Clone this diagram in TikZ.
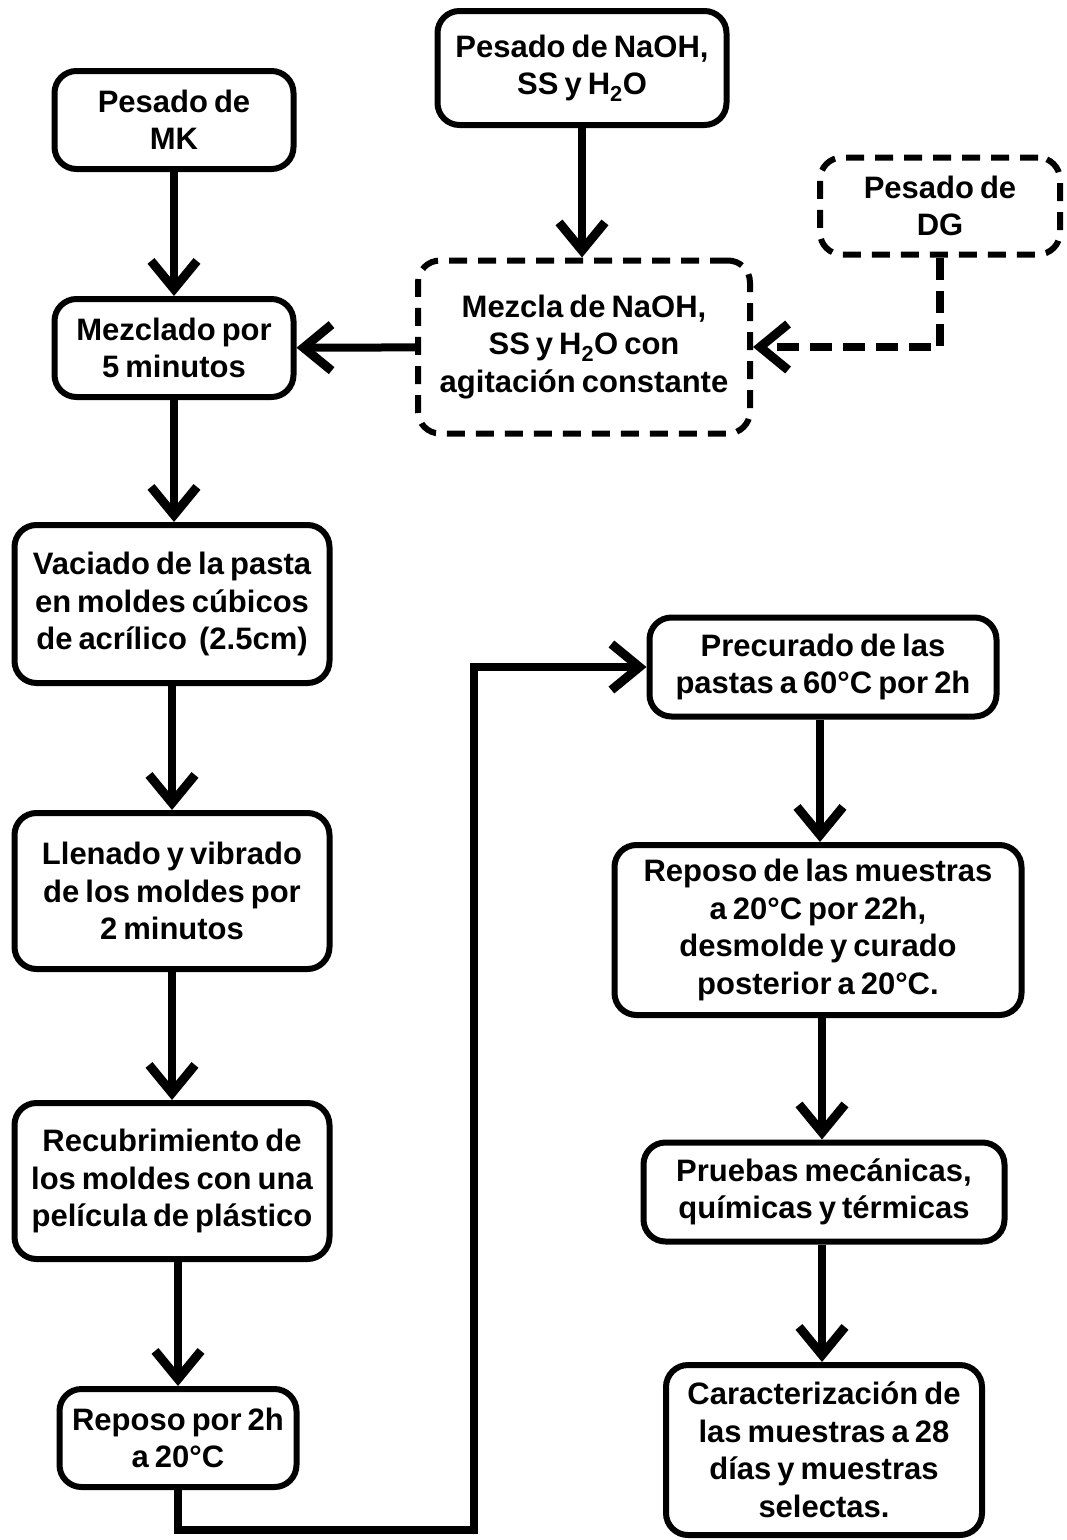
\documentclass[tikz,border=0pt]{standalone}
\usepackage{fontspec}
\setmainfont{Liberation Sans}[WordSpace=0.7]
\usetikzlibrary{arrows.meta}
\begin{document}
\begin{tikzpicture}[x=1pt,y=-1pt,
  box/.style={draw=black, line width=6pt, rounded corners=22pt, fill=white,
    align=center, inner sep=0pt, font=\fontsize{31}{37.5}\selectfont\bfseries},
  dbox/.style={box, dash pattern=on 18pt off 11pt},
  flow/.style={line width=8pt, -{Straight Barb[length=28pt,width=46pt,line width=9pt]}},
  dflow/.style={flow, dash pattern=on 22pt off 11pt}]
  \useasboundingbox (0,0) rectangle (1067,1540);
  \fill[white] (0,0) rectangle (1067,1540);

  % left column
  \node[box, minimum width=239pt, minimum height=98pt]  (mk)    at (174,120)  {Pesado de\\MK};
  \node[box, minimum width=239pt, minimum height=98pt]  (mix)   at (174,348)  {Mezclado por\\5 minutos};
  \node[box, minimum width=315pt, minimum height=158pt] (pour)  at (172,604)  {Vaciado de la pasta\\en moldes cúbicos\\de acrílico\ \ (2.5cm)};
  \node[box, minimum width=315pt, minimum height=156pt] (fill)  at (172,891)  {Llenado y vibrado\\de los moldes por\\2 minutos};
  \node[box, minimum width=315pt, minimum height=156pt] (cover) at (172,1181) {Recubrimiento de\\los moldes con una\\película de plástico};
  \node[box, minimum width=237pt, minimum height=98pt]  (rest)  at (178,1438) {Reposo por 2h\\a 20°C};

  % top inputs
  \node[box, minimum width=289pt, minimum height=114pt] (naoh)  at (582,68)   {Pesado de NaOH,\\SS y H\textsubscript{2}O};
  \node[dbox, minimum width=240pt, minimum height=97pt] (dg)    at (940,206)  {Pesado de\\DG};
  \node[dbox, minimum width=332pt, minimum height=173pt] (sol)  at (584,347)  {Mezcla de NaOH,\\SS y H\textsubscript{2}O con\\agitación constante};

  % right column
  \node[box, minimum width=347pt, minimum height=99pt]  (pre)   at (823,667)  {Precurado de las\\pastas a 60°C por 2h};
  \node[box, minimum width=407pt, minimum height=170pt] (cure)  at (818,930)  {Reposo de las muestras\\a 20°C por 22h,\\desmolde y curado\\posterior a 20°C.};
  \node[box, minimum width=361pt, minimum height=99pt]  (test)  at (824,1192) {Pruebas mecánicas,\\químicas y térmicas};
  \node[box, minimum width=316pt, minimum height=170pt] (char)  at (824,1450) {Caracterización de\\las muestras a 28\\días y muestras\\selectas.};

  \coordinate (turn) at (474,1530);

  % connectors
  \draw[flow] (mk) -- (mix);
  \draw[flow] (naoh) -- (naoh.south |- sol.north);
  \draw[dflow] (dg.south) |- (sol.east);
  \draw[flow] (sol) -- (mix);
  \draw[flow] (mix.south) -- (mix.south |- pour.north);
  \draw[flow] (pour) -- (fill);
  \draw[flow] (fill) -- (cover);
  \draw[flow] (cover.south -| rest.south) -- (rest.north);
  \draw[flow] (rest.south) -- (rest.south |- turn) -- (turn) |- (pre.west);
  \draw[flow] (pre.south -| 820,0) -- (cure.north -| 820,0);
  \draw[flow] (cure.south -| 822,0) -- (test.north -| 822,0);
  \draw[flow] (test.south -| 822,0) -- (char.north -| 822,0);
\end{tikzpicture}
\end{document}
